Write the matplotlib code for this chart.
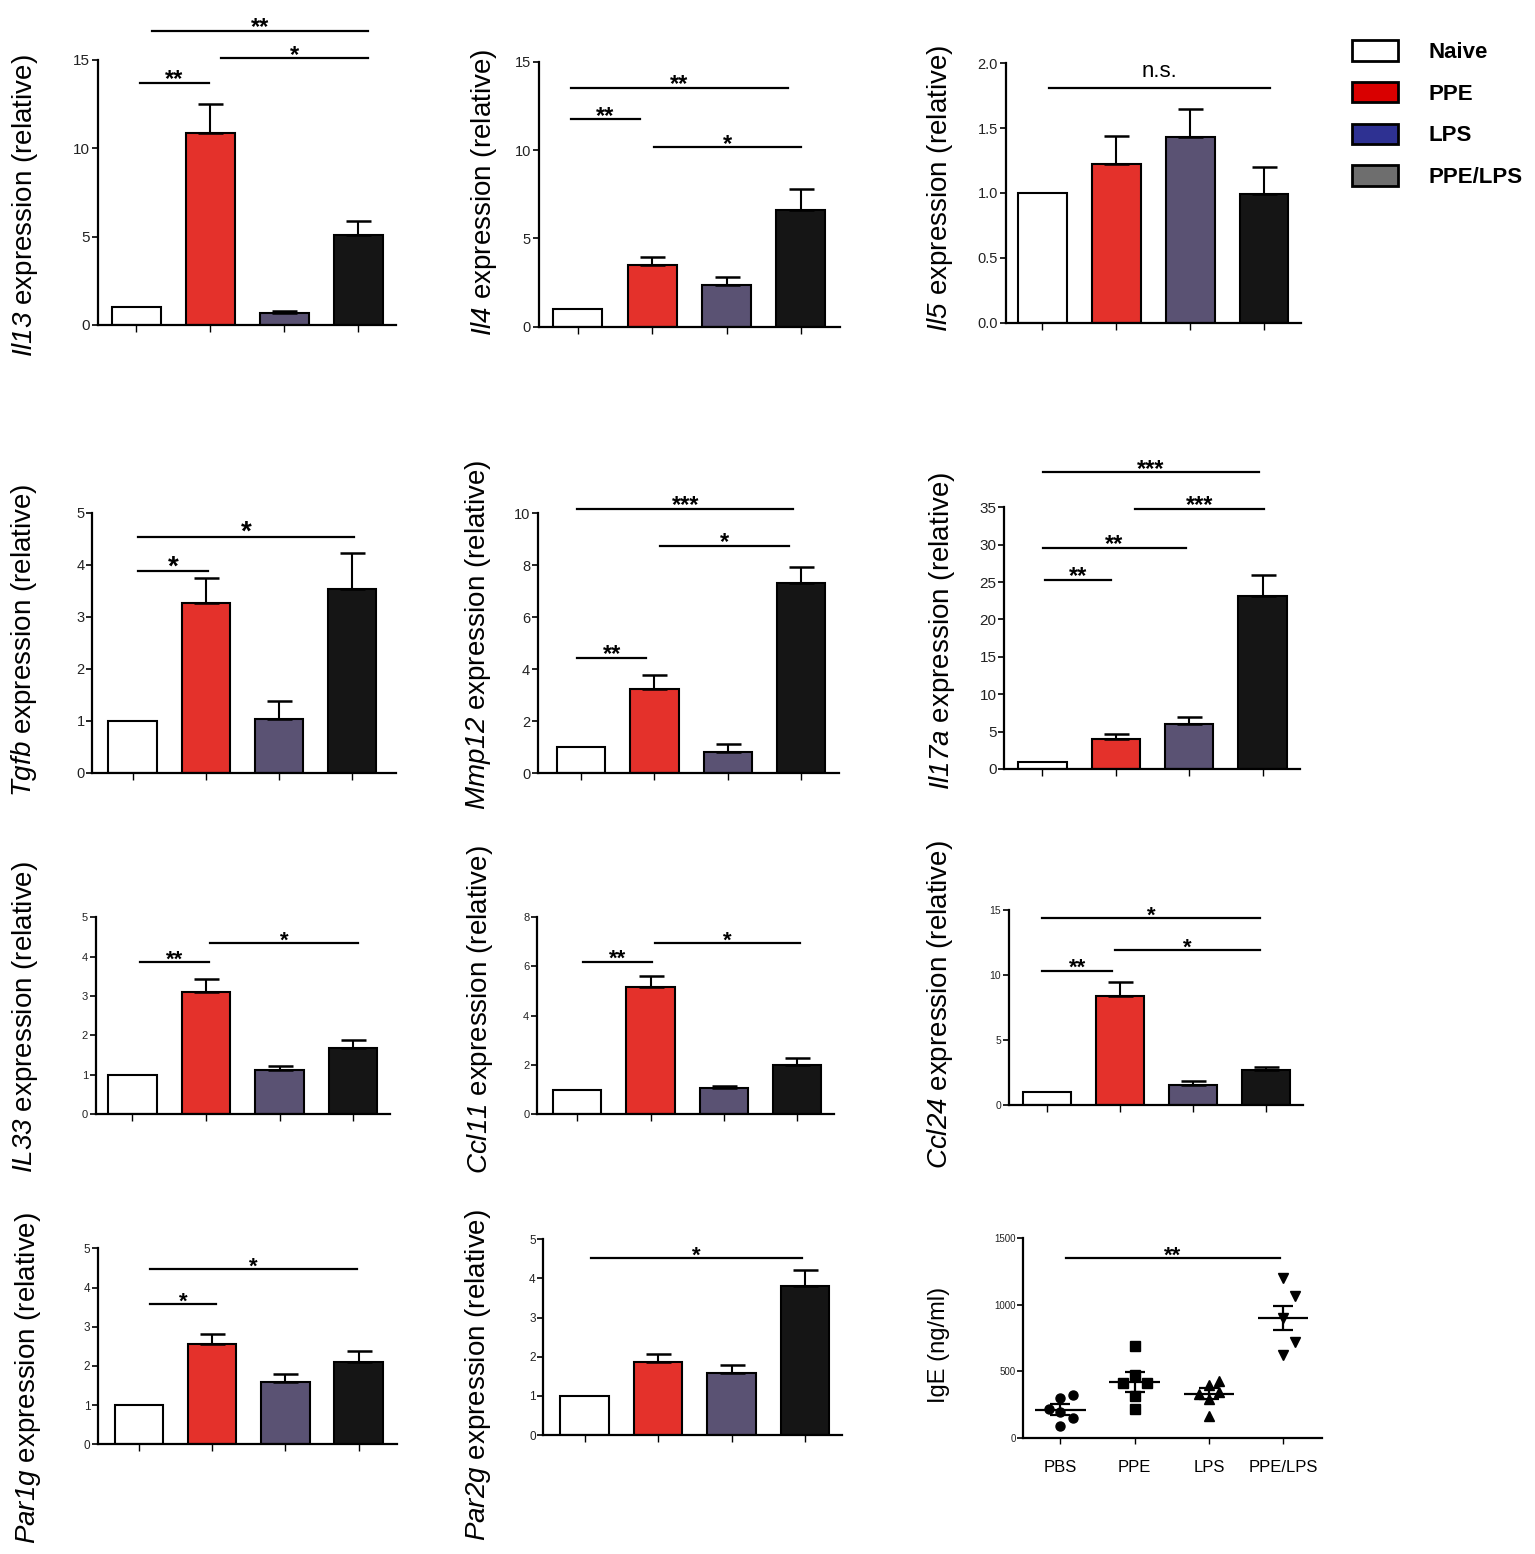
import numpy as np
import matplotlib
matplotlib.use('Agg')
import matplotlib.pyplot as plt
from matplotlib.patches import Patch

plt.rcParams['font.family'] = ['Liberation Sans', 'DejaVu Sans']
# gene names are set in \mathrm, so point rm at the italic face (digits too)
plt.rcParams['mathtext.fontset'] = 'custom'
plt.rcParams['mathtext.rm'] = 'Liberation Sans:italic'
plt.rcParams['mathtext.it'] = 'Liberation Sans:italic'

W, H = 1535, 1554

# groups / colours
groups = ['Naive', 'PPE', 'LPS', 'PPE/LPS']
ige_groups = ['PBS', 'PPE', 'LPS', 'PPE/LPS']
bar_colors = ['white', '#e4312b', '#5a5273', '#151515']
legend_colors = ['white', '#d90000', '#2e3192', '#6e6e6e']

# relative expression: mean and SEM
il13 = [1.0, 10.89, 0.66, 5.09]
il13_sem = [0, 1.6, 0.13, 0.8]
il4 = [1.0, 3.49, 2.36, 6.6]
il4_sem = [0, 0.47, 0.47, 1.19]
il5 = [1.0, 1.22, 1.43, 0.99]
il5_sem = [0, 0.22, 0.22, 0.21]
tgfb = [1.0, 3.26, 1.04, 3.53]
tgfb_sem = [0, 0.48, 0.34, 0.7]
mmp12 = [1.0, 3.23, 0.81, 7.33]
mmp12_sem = [0, 0.54, 0.32, 0.59]
il17a = [0.98, 3.97, 6.06, 23.18]
il17a_sem = [0, 0.67, 0.85, 2.77]
il33 = [1.0, 3.11, 1.12, 1.69]
il33_sem = [0, 0.33, 0.11, 0.19]
ccl11 = [0.98, 5.18, 1.04, 1.99]
ccl11_sem = [0, 0.45, 0.1, 0.27]
ccl24 = [1.03, 8.41, 1.54, 2.69]
ccl24_sem = [0, 1.08, 0.3, 0.2]
par1g = [1.0, 2.56, 1.6, 2.11]
par1g_sem = [0, 0.25, 0.19, 0.28]
par2g = [1.0, 1.87, 1.59, 3.81]
par2g_sem = [0, 0.19, 0.2, 0.41]

# significance bars: (x start, x end, y, label)
il13_sig = [(0.05, 0.98, 13.7, '**'), (1.14, 3.13, 15.1, '*'), (0.21, 3.13, 16.65, '**')]
il4_sig = [(-0.1, 0.84, 11.74, '**'), (1.02, 3.0, 10.15, '*'), (-0.1, 2.83, 13.53, '**')]
il5_sig = [(0.09, 3.08, 1.81, 'n.s.')]
tgfb_sig = [(0.08, 1.03, 3.88, '*'), (0.08, 3.03, 4.54, '*')]
mmp12_sig = [(-0.05, 0.89, 4.45, '**'), (1.08, 2.83, 8.76, '*'), (-0.05, 2.89, 10.18, '***')]
il17a_sig = [(0.04, 0.94, 25.3, '**'), (0.01, 1.95, 29.6, '**'),
             (1.26, 3.02, 34.8, '***'), (0.01, 2.95, 39.7, '***')]
il33_sig = [(0.1, 1.04, 3.87, '**'), (1.06, 3.07, 4.34, '*')]
ccl11_sig = [(0.08, 1.02, 6.2, '**'), (1.06, 3.04, 6.94, '*')]
ccl24_sig = [(-0.06, 0.9, 10.33, '**'), (0.93, 2.92, 11.92, '*'), (-0.06, 2.92, 14.36, '*')]
par1g_sig = [(0.15, 1.05, 3.58, '*'), (0.15, 2.98, 4.46, '*')]
par2g_sig = [(0.09, 2.96, 4.51, '*')]

# serum IgE (ng/ml): individual mice, jitter, mean and SEM
ige_pbs = [89, 147, 190, 215, 299, 322]
ige_pbs_dx = [0, 0.17, 0, -0.15, 0, 0.17]
ige_ppe = [215, 316, 413, 413, 468, 691]
ige_ppe_dx = [0, 0, -0.16, 0.16, 0, 0]
ige_lps = [165, 291, 329, 342, 400, 425]
ige_lps_dx = [0, 0, -0.13, 0.14, 0, 0.14]
ige_ppelps = [625, 722, 899, 1063, 1203]
ige_ppelps_dx = [0, 0.16, 0, 0.16, 0]
ige_mean = [210, 420, 330, 900]
ige_sem = [42, 75, 42, 90]
ige_markers = ['o', 's', '^', 'v']
ige_sig = [(0.07, 2.96, 1349, '**')]


def px_box(left, right, top, bottom):
    return [left / W, 1 - bottom / H, (right - left) / W, (bottom - top) / H]


def style_axes(ax, yticks, xlim, ylim, tick_size, fmt=None):
    for side in ['top', 'right']:
        ax.spines[side].set_visible(False)
    for side in ['left', 'bottom']:
        ax.spines[side].set_linewidth(1.6)
    ax.set_xlim(xlim)
    ax.set_ylim(ylim)
    ax.set_xticks(np.arange(len(groups)))
    ax.set_yticks(yticks)
    if fmt:
        ax.set_yticklabels([fmt % t for t in yticks])
    ax.tick_params(axis='y', length=4, width=1.2, pad=1.5, labelsize=tick_size, labelcolor='#222222')
    ax.tick_params(axis='x', length=5, width=1.0)


def add_sig(ax, sig, size):
    for x0, x1, y, label in sig:
        ax.plot([x0, x1], [y, y], color='black', lw=1.6, clip_on=False)
        if label == 'n.s.':
            ax.annotate(label, xy=((x0 + x1) / 2, y), xytext=(0, 8), textcoords='offset points',
                        ha='center', va='baseline', fontsize=16, annotation_clip=False)
        else:
            ax.annotate(label, xy=((x0 + x1) / 2, y), xytext=(0, -2.5), textcoords='offset points',
                        ha='center', va='baseline', fontsize=size, fontweight='bold',
                        annotation_clip=False)


def bar_panel(fig, box, means, sems, sig, yticks, xlim, tick_size, star_size, fmt=None):
    ax = fig.add_axes(px_box(*box))
    x = np.arange(len(groups))
    ax.bar(x, means, width=0.66, color=bar_colors, edgecolor='black', linewidth=1.5, zorder=2)
    idx = [i for i in x if sems[i] > 0]
    m = np.array(means)[idx]
    e = np.array(sems)[idx]
    ax.errorbar(x[idx], m, yerr=[np.zeros(len(idx)), e], fmt='none', ecolor='black',
                elinewidth=1.5, capsize=9, capthick=1.8, zorder=3)
    ax.set_xticklabels([])
    style_axes(ax, yticks, xlim, (yticks[0], yticks[-1]), tick_size, fmt)
    add_sig(ax, sig, star_size)
    return ax


def ylab(fig, gene, cx, cy):
    fig.text(cx / W, 1 - cy / H, r'$\mathrm{%s}$ expression (relative)' % gene, rotation=90,
             ha='center', va='center', fontsize=20)


fig = plt.figure(figsize=(W / 100, H / 100), dpi=100)

# row 1
bar_panel(fig, (97.7, 396, 60, 325), il13, il13_sem, il13_sig, [0, 5, 10, 15], (-0.52, 3.51), 11, 17)
ylab(fig, 'Il13', 25, 206)
bar_panel(fig, (538.6, 839.5, 61.7, 326.7), il4, il4_sem, il4_sig, [0, 5, 10, 15], (-0.53, 3.52), 10.5, 17)
ylab(fig, 'Il4', 484, 192)
bar_panel(fig, (1005.5, 1301, 63.3, 322.7), il5, il5_sem, il5_sig, [0, 0.5, 1.0, 1.5, 2.0], (-0.5, 3.5), 10.5, 17, '%.1f')
ylab(fig, 'Il5', 940, 188)

# row 2
bar_panel(fig, (92.4, 395.6, 512.7, 772.7), tgfb, tgfb_sem, tgfb_sig, [0, 1, 2, 3, 4, 5], (-0.55, 3.6), 10.5, 20)
ylab(fig, 'Tgfb', 24, 640)
bar_panel(fig, (537.8, 838.6, 513.3, 773.3), mmp12, mmp12_sem, mmp12_sig, [0, 2, 4, 6, 8, 10], (-0.59, 3.51), 10.5, 17)
ylab(fig, 'Mmp12', 478, 635)
bar_panel(fig, (1004.3, 1300, 507.3, 769), il17a, il17a_sem, il17a_sig, [0, 5, 10, 15, 20, 25, 30, 35], (-0.52, 3.51), 11, 17)
ylab(fig, 'Il17a', 942, 631)

# row 3
bar_panel(fig, (95.7, 390, 917.3, 1114), il33, il33_sem, il33_sig, [0, 1, 2, 3, 4, 5], (-0.5, 3.5), 8, 16)
ylab(fig, 'IL33', 25, 1017)
bar_panel(fig, (537, 833.8, 917.3, 1114), ccl11, ccl11_sem, ccl11_sig, [0, 2, 4, 6, 8], (-0.55, 3.5), 8, 16)
ylab(fig, 'Ccl11', 480, 1010)
bar_panel(fig, (1008.6, 1302.7, 910, 1105), ccl24, ccl24_sem, ccl24_sig, [0, 5, 10, 15], (-0.52, 3.5), 7.5, 16)
ylab(fig, 'Ccl24', 940, 1005)

# row 4
bar_panel(fig, (98, 396.6, 1248.3, 1444.3), par1g, par1g_sem, par1g_sig, [0, 1, 2, 3, 4, 5], (-0.56, 3.52), 8.5, 16)
ylab(fig, 'Par1g', 28, 1378)
bar_panel(fig, (543.4, 842, 1239.3, 1435), par2g, par2g_sem, par2g_sig, [0, 1, 2, 3, 4, 5], (-0.56, 3.5), 8.5, 16)
ylab(fig, 'Par2g', 478, 1375)

# IgE scatter
ax = fig.add_axes(px_box(1023.3, 1321.7, 1238.3, 1437.7))
xs = np.arange(len(ige_groups))
ige_points = [ige_pbs, ige_ppe, ige_lps, ige_ppelps]
ige_dx = [ige_pbs_dx, ige_ppe_dx, ige_lps_dx, ige_ppelps_dx]
for i, (vals, dx, mk) in enumerate(zip(ige_points, ige_dx, ige_markers)):
    ax.plot(xs[i] + np.array(dx), vals, linestyle='none', marker=mk, markersize=6.5,
            color='black', zorder=3)
ax.hlines(ige_mean, xs - 0.34, xs + 0.34, color='black', lw=1.6, zorder=4)
ax.errorbar(xs, ige_mean, yerr=ige_sem, fmt='none', ecolor='black', elinewidth=1.6,
            capsize=7, capthick=1.6, zorder=4)
style_axes(ax, [0, 500, 1000, 1500], (-0.5, 3.52), (0, 1500), 7)
ax.set_xticks(xs)
ax.set_xticklabels(ige_groups)
ax.tick_params(axis='x', labelsize=12, pad=12, length=4)
add_sig(ax, ige_sig, 16)
fig.text(939 / W, 1 - 1345 / H, 'IgE (ng/ml)', rotation=90, ha='center', va='center', fontsize=17)

# legend
handles = [Patch(facecolor=c, edgecolor='black', linewidth=2) for c in legend_colors]
fig.legend(handles, groups, loc='upper left', bbox_to_anchor=(1352 / W, 1 - 40 / H),
           frameon=False, prop={'size': 16, 'weight': 'bold'}, handlelength=2.05,
           handleheight=1.05, labelspacing=0.85, handletextpad=1.4, borderpad=0,
           borderaxespad=0)

fig.savefig('out.png', dpi=100)
